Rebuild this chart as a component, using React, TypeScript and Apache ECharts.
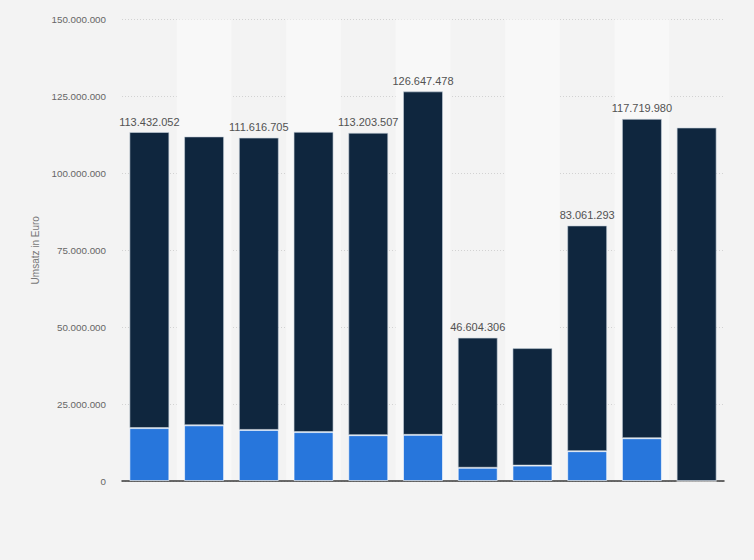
import React, { useEffect, useRef } from "react";
import * as echarts from "echarts";

const categories = ["2009", "2010", "2011", "2012", "2013", "2014", "2015", "2016", "2017", "2018", "2019"];
const totals = [113432052, 112000000, 111616705, 113500000, 113203507, 126647478, 46604306, 43200000, 83061293, 117719980, 114900000];
const lowerValues = [17200000, 18100000, 16600000, 15900000, 14900000, 15000000, 4300000, 5000000, 9700000, 13900000, 0];
const labeledBars = [true, false, true, false, true, true, true, false, true, true, false];
const yTicks = { min: 0, max: 150000000, interval: 25000000 };

const fmt = (v: number) => String(Math.round(v)).replace(/\B(?=(\d{3})+(?!\d))/g, ".");

export default function App() {
  const ref = useRef<HTMLDivElement>(null);
  useEffect(() => {
    if (!ref.current) return;
    const chart = echarts.init(ref.current, undefined, { renderer: "svg" });
    const upper = totals.map((t, i) => t - lowerValues[i]);
    chart.setOption({
      animation: false,
      backgroundColor: "#f3f3f3",
      grid: { left: 122, right: 30, top: 19.5, bottom: 79 },
      xAxis: {
        type: "category",
        data: categories,
        axisLabel: { show: false },
        axisTick: { show: false },
        axisLine: { show: true, lineStyle: { color: "#3a3a3a", width: 1.5 } },
        splitArea: { show: true, areaStyle: { color: ["rgba(0,0,0,0)", "#f8f8f8"] } },
        splitLine: { show: false },
      },
      yAxis: {
        type: "value",
        min: yTicks.min,
        max: yTicks.max,
        interval: yTicks.interval,
        name: "Umsatz in Euro",
        nameLocation: "middle",
        nameGap: 78,
        nameRotate: 90,
        nameTextStyle: { color: "#777", fontSize: 10, fontFamily: "Liberation Sans, Arial, sans-serif" },
        axisLine: { show: false },
        axisTick: { show: false },
        axisLabel: {
          color: "#666",
          fontSize: 9.8,
          margin: 16,
          fontFamily: "Liberation Sans, Arial, sans-serif",
          formatter: (v: number) => fmt(v),
        },
        splitLine: { show: true, lineStyle: { color: "#d2d2d2", type: [1, 2], width: 1 } },
      },
      series: [
        {
          type: "bar",
          stack: "total",
          barWidth: 40,
          data: lowerValues,
          itemStyle: { color: "#2776dc", borderColor: "rgba(255,255,255,0.6)", borderWidth: 1 },
        },
        {
          type: "bar",
          stack: "total",
          barWidth: 40,
          data: upper.map((v, i) => ({
            value: v,
            label: { show: labeledBars[i] },
          })),
          itemStyle: { color: "#0f263e", borderColor: "rgba(200,210,220,0.6)", borderWidth: 1 },
          label: {
            position: "top",
            distance: 5,
            color: "#525252",
            fontSize: 11,
            fontFamily: "Liberation Sans, Arial, sans-serif",
            formatter: (p: any) => fmt(totals[p.dataIndex]),
          },
        },
      ],
    });
    return () => chart.dispose();
  }, []);
  return <div ref={ref} style={{ width: 754, height: 560, position: "absolute", left: 0, top: 0 }} />;
}
